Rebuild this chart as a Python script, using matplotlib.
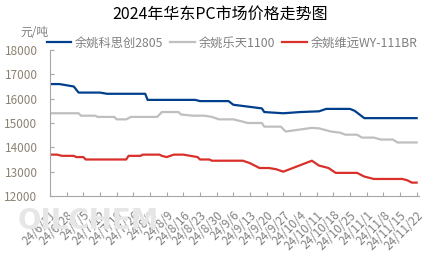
import matplotlib.pyplot as plt
import pandas as pd

plt.rcParams['font.family'] = ['Noto Sans CJK SC', 'DejaVu Sans']

# ************************** Data ****************************
blue_dates = ['06-21', '06-25', '06-28', '07-01', '07-03', '07-12', '07-15', '07-31',
              '08-01', '08-21', '08-23', '09-04', '09-06', '09-10', '09-14', '09-18',
              '09-19', '09-27', '10-04', '10-12', '10-15', '10-25', '10-27', '10-29',
              '10-31', '11-22']
blue_vals = [16600, 16600, 16550, 16500, 16250, 16250, 16200, 16200,
             15950, 15950, 15900, 15900, 15750, 15700, 15650, 15600,
             15450, 15400, 15450, 15480, 15580, 15580, 15500, 15350,
             15200, 15200]

gray_dates = ['06-21', '07-03', '07-04', '07-10', '07-11', '07-18', '07-19', '07-23',
              '07-25', '08-05', '08-07', '08-14', '08-15', '08-20', '08-25', '08-28',
              '08-31', '09-06', '09-09', '09-12', '09-18', '09-19', '09-26', '09-28',
              '10-09', '10-12', '10-17', '10-21', '10-23', '10-28', '10-30', '11-04',
              '11-07', '11-12', '11-14', '11-22']
gray_vals = [15400, 15400, 15300, 15300, 15250, 15250, 15150, 15150,
             15250, 15250, 15450, 15450, 15350, 15300, 15300, 15250,
             15150, 15150, 15080, 15000, 15000, 14850, 14850, 14650,
             14800, 14780, 14650, 14600, 14520, 14520, 14400, 14400,
             14320, 14320, 14200, 14200]

red_dates = ['06-21', '06-24', '06-26', '07-01', '07-02', '07-05', '07-06', '07-23',
             '07-24', '07-29', '07-30', '08-06', '08-07', '08-09', '08-12', '08-16',
             '08-22', '08-23', '08-27', '08-28', '09-10', '09-13', '09-17', '09-21',
             '09-24', '09-27', '10-01', '10-09', '10-12', '10-16', '10-19', '10-28',
             '10-31', '11-04', '11-16', '11-18', '11-20', '11-22']
red_vals = [13700, 13700, 13650, 13650, 13600, 13600, 13500, 13500,
            13650, 13650, 13700, 13700, 13650, 13600, 13700, 13700,
            13600, 13500, 13500, 13450, 13450, 13350, 13150, 13150,
            13100, 13000, 13150, 13450, 13250, 13150, 12950, 12950,
            12800, 12700, 12700, 12650, 12550, 12550]

tick_dates = pd.date_range('2024-06-21', '2024-11-22', freq='7D')
tick_labels = [f"24/{d.month}/{d.day}" for d in tick_dates]

start = pd.Timestamp('2024-06-21')


def to_days(dates):
    return [(pd.Timestamp('2024-' + d) - start).days for d in dates]


# ************************** Plot ****************************
fig = plt.figure(figsize=(4.41, 2.63), dpi=100)
ax = fig.add_axes([50 / 441, 1 - 196 / 263, 369 / 441, 146 / 263])

ax.plot(to_days(blue_dates), blue_vals, color='#003f8c', lw=1.6, label='余姚科思创2805')
ax.plot(to_days(gray_dates), gray_vals, color='#bfbfbf', lw=1.6, label='余姚乐天1100')
ax.plot(to_days(red_dates), red_vals, color='#d9302a', lw=1.6, label='余姚维远WY-111BR')

ax.set_xlim(0, 155)
ax.set_ylim(12000, 18000)
ax.set_yticks(range(12000, 18001, 1000))
tick_days = [(d - start).days for d in tick_dates]
ax.set_xticks(tick_days)
ax.set_xticklabels(tick_labels, rotation=45, ha='right', va='top',
                   rotation_mode='anchor', fontsize=8.5, color='#808080')

for s in ['top', 'right']:
    ax.spines[s].set_visible(False)
for s in ['left', 'bottom']:
    ax.spines[s].set_color('#a6a6a6')
ax.tick_params(axis='x', direction='in', length=3, color='#a6a6a6', pad=9)
ax.tick_params(axis='y', direction='in', length=3, color='#a6a6a6', labelsize=8.5,
               labelcolor='#8c8273', pad=9)

# watermark
fig.text(0.04, 0.13, 'OILCHEM', fontsize=20, fontweight='bold', color='#e6e6e6',
         family='DejaVu Sans', zorder=0)

fig.text(0.5, 0.945, '2024年华东PC市场价格走势图', ha='center', va='center', fontsize=11.5)
fig.text(20 / 441, 1 - 33 / 263, '元/吨', ha='left', va='center', fontsize=8.5, color='#808080')

leg = fig.legend(loc='center', bbox_to_anchor=(232 / 441, 1 - 43 / 263), ncol=3, frameon=False,
                 fontsize=8.8, handlelength=2.0, handletextpad=0.3, columnspacing=0.6,
                 borderpad=0)
for t in leg.get_texts():
    t.set_color('#808080')

plt.savefig('out.png', dpi=100)
